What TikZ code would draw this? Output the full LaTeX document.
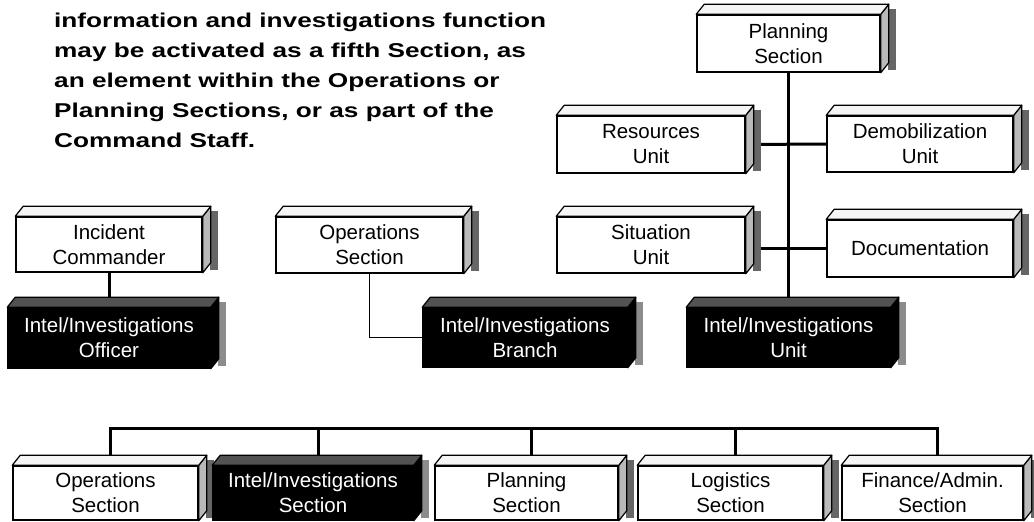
\documentclass[tikz,border=0pt]{standalone}
\usepackage{fontspec}
\setmainfont{Liberation Sans}
\newfontfamily\notefont[FakeStretch=1.31]{Liberation Sans}
\usetikzlibrary{calc,backgrounds}
\newcommand{\dbox}[7]{%
  \node[#1, minimum width=#5pt, minimum height=#6pt] (#2) at (#3,#4) {#7};
  \fill[#1shadow] ($(#2.north east)+(7,-5)$) rectangle ($(#2.south east)+(15,-3)$);
  \draw[#1side] (#2.north east) -- ++(8,-10) -- ($(#2.south east)+(8,-10)$) -- (#2.south east) -- cycle;
  \draw[#1top] (#2.north west) -- ++(8,-10) -- ($(#2.north east)+(8,-10)$) -- (#2.north east) -- cycle;
}
\begin{document}
\begin{tikzpicture}[x=1pt,y=-1pt,
  wbox/.style={draw=black, line width=1.5pt, fill=white, text=black, align=center, inner sep=0pt, font=\fontsize{20.5}{25}\selectfont},
  bbox/.style={draw=black, line width=1.5pt, fill=black, text=white, align=center, inner sep=0pt, font=\fontsize{20.5}{25}\selectfont},
  wboxtop/.style={draw=black, line width=1.2pt, fill=gray!8, line join=round},
  bboxtop/.style={draw=black, line width=1.2pt, fill=black!68, line join=round},
  wboxside/.style={draw=black, line width=1.2pt, fill=gray!55, line join=round},
  bboxside/.style={draw=black, line width=1.2pt, fill=black, line join=round},
  wboxshadow/.style={fill=black!60},
  bboxshadow/.style={fill=black!45},
  link/.style={line width=3pt},
  thinlink/.style={line width=1.6pt},
  note/.style={font=\notefont\fontsize{20}{30}\selectfont\bfseries, align=left, inner sep=0pt, anchor=north west}
]
\useasboundingbox (0,0) rectangle (1034,522);

\node[note] (note) at (54,13) {information and investigations function\\
may be activated as a fifth Section, as\\
an element within the Operations or\\
Planning Sections, or as part of the\\
Command Staff.};

% left group
\dbox{wbox}{ic}{109}{244.5}{186}{55}{Incident\\Commander}
\dbox{bbox}{officer}{109}{338}{202}{60}{Intel/Investigations\\Officer}

% middle group
\dbox{wbox}{ops}{369.5}{245}{187}{56}{Operations\\Section}
\dbox{bbox}{branch}{525}{337.5}{204}{59}{Intel/Investigations\\Branch}

% planning group
\dbox{wbox}{plan}{788.5}{43.5}{183}{57}{Planning\\Section}
\dbox{wbox}{res}{651}{144.5}{188}{57}{Resources\\Unit}
\dbox{wbox}{demob}{920}{144}{186}{56}{Demobilization\\Unit}
\dbox{wbox}{sit}{651}{245}{188}{56}{Situation\\Unit}
\dbox{wbox}{doc}{920}{248.5}{186}{57}{Documentation}
\dbox{bbox}{unit}{788.5}{337.5}{203}{59}{Intel/Investigations\\Unit}

% bottom row
\dbox{wbox}{bops}{105.5}{493}{185}{54}{Operations\\Section}
\dbox{bbox}{bintel}{313}{493}{200}{54}{Intel/Investigations\\Section}
\dbox{wbox}{bplan}{526.5}{493}{183}{54}{Planning\\Section}
\dbox{wbox}{blog}{730.5}{493}{185}{54}{Logistics\\Section}
\dbox{wbox}{bfin}{932.5}{493}{181}{54}{Finance/Admin.\\Section}

\coordinate (bus) at (0,428);

\begin{pgfonlayer}{background}
  \fill[white] (0,0) rectangle (1034,522);
  \draw[link] (ic.south) -- (officer.north);
  \draw[thinlink] (ops.south) |- (branch.west);
  \draw[link] (plan.south) -- (unit.north);
  \draw[link] (res.east) -- (demob.west);
  \draw[link] (sit.east |- doc.west) -- (doc.west);
  \draw[link] ([xshift=5]bops.north) -- ([xshift=5]bops.north |- bus) -- ([xshift=5]bfin.north |- bus) -- ([xshift=5]bfin.north);
  \draw[link] ([xshift=5]bintel.north) -- ([xshift=5]bintel.north |- bus);
  \draw[link] ([xshift=5]bplan.north) -- ([xshift=5]bplan.north |- bus);
  \draw[link] ([xshift=5]blog.north) -- ([xshift=5]blog.north |- bus);
\end{pgfonlayer}
\end{tikzpicture}
\end{document}
